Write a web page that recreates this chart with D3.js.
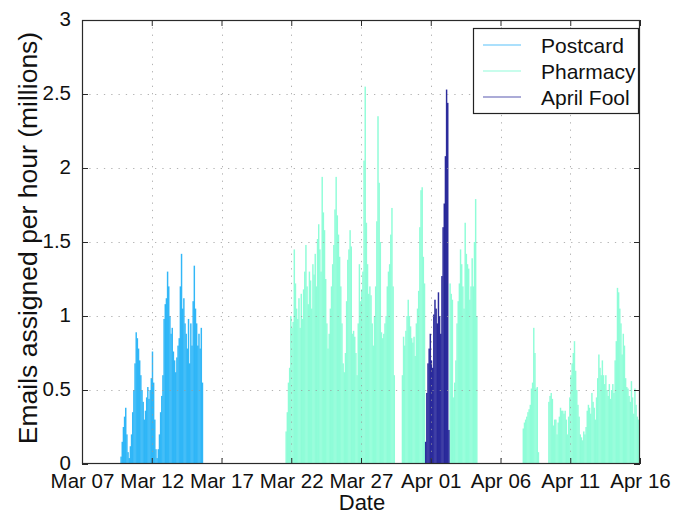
<!DOCTYPE html>
<html>
<head>
<meta charset="utf-8">
<script src="https://cdn.jsdelivr.net/npm/d3@7"></script>
<style>
  html, body { margin: 0; padding: 0; background: #fff; }
  svg { display: block; }
  text { font-family: "Liberation Sans", Arial, Helvetica, sans-serif; fill: #111; }
</style>
</head>
<body>
<svg id="chart" width="681" height="515"></svg>
<script>
// Hourly email volume per spam campaign, in millions, sampled every 2 hours.
const STEP_HOURS = 2;

const seriesNames = ["Postcard", "Pharmacy", "April Fool"];

const postcardStart = "2008-03-09T18:00Z";
const postcard = [
  0.05, 0.15, 0.25, 0.32, 0.38, 0.20, 0.08, 0.04, 0.12, 0.20,
  0.35, 0.50, 0.68, 0.89, 0.85, 0.78, 0.70, 0.60, 0.50, 0.42,
  0.30, 0.36, 0.45, 0.52, 0.44, 0.50, 0.58, 0.76, 0.55, 0.30,
  0.10, 0.04, 0.10, 0.20, 0.35, 0.46, 0.60, 0.98, 1.08, 1.12,
  1.30, 1.20, 1.00, 0.88, 0.92, 0.76, 0.70, 0.62, 0.72, 0.80,
  0.85, 1.20, 1.42, 1.05, 1.12, 0.95, 0.88, 0.78, 0.98, 0.68,
  0.95, 0.80, 1.10, 1.34, 1.05, 0.95, 0.80, 0.88, 0.78, 0.92,
  0.55
];

// Pharmacy ran in several bursts separated by quiet periods.
const pharmacyStarts = [
  "2008-03-21T14:00Z", "2008-03-29T22:00Z", "2008-04-02T08:00Z",
  "2008-04-07T14:00Z", "2008-04-09T10:00Z"
];
const pharmacyBurst1 = [
  0.22, 0.35, 0.55, 0.65, 1.00, 0.92, 0.96, 1.45, 1.22, 1.05,
  0.98, 1.12, 0.92, 1.15, 0.98, 1.18, 1.30, 1.48, 1.20, 1.08,
  1.30, 1.24, 1.05, 1.35, 1.28, 1.42, 1.20, 1.52, 1.62, 1.45,
  1.30, 1.94, 1.70, 1.58, 1.25, 0.95, 0.78, 0.88, 1.05, 1.20,
  1.35, 1.48, 1.72, 1.94, 1.68, 1.55, 1.40, 1.20, 0.95, 0.68,
  0.62, 0.75, 1.10, 1.38, 1.45, 1.58, 1.47, 0.88, 0.90, 0.86,
  0.75, 0.60, 0.95, 1.35, 1.10, 1.18, 1.30, 2.05, 2.55, 1.63,
  1.35, 1.15, 1.20, 1.14, 0.95, 0.80, 1.00, 1.20, 1.64, 2.35,
  1.90, 1.50, 0.89, 0.85, 0.88, 0.95, 1.00, 1.20, 1.30, 1.35,
  1.55, 1.73, 1.20, 0.60
];
const pharmacyBurst2 = [
  0.60, 0.86, 0.80, 0.90, 1.00, 1.11, 1.00, 0.93, 0.85, 0.82,
  0.86, 0.73, 0.95, 1.05, 1.17, 1.60, 1.85, 1.87, 1.40, 1.22
];
const pharmacyBurst3 = [
  1.22, 1.15, 1.11, 0.45, 0.55, 0.70, 0.95, 1.10, 1.22, 1.45,
  1.35, 1.20, 1.05, 1.63, 1.42, 1.35, 1.32, 1.11, 1.20, 1.39,
  1.20, 1.50, 1.79, 1.00
];
const pharmacyBurst4 = [
  0.24, 0.28, 0.30, 0.32, 0.35, 0.37, 0.40, 0.51, 0.55, 0.92,
  0.75, 0.51, 0.52, 0.08
];
const pharmacyBurst5 = [
  0.42, 0.46, 0.48, 0.44, 0.26, 0.30, 0.30, 0.20, 0.28, 0.32,
  0.38, 0.36, 0.36, 0.34, 0.36, 0.30, 0.20, 0.32, 0.45, 0.60,
  0.68, 0.75, 0.83, 0.63, 0.50, 0.40, 0.32, 0.20, 0.18, 0.16,
  0.22, 0.20, 0.25, 0.36, 0.40, 0.38, 0.34, 0.48, 0.42, 0.38,
  0.30, 0.45, 0.58, 0.74, 0.65, 0.60, 0.70, 0.60, 0.54, 0.60,
  0.50, 0.46, 0.54, 0.44, 0.50, 0.54, 0.48, 0.70, 0.83, 1.19,
  1.16, 1.05, 0.95, 0.74, 0.88, 0.80, 0.58, 0.52, 0.51, 0.46,
  0.42, 0.56, 0.45, 0.34, 0.51, 0.40, 0.32, 0.30
];
const pharmacyBursts = [pharmacyBurst1, pharmacyBurst2, pharmacyBurst3, pharmacyBurst4, pharmacyBurst5];

const aprilFoolStart = "2008-03-31T14:00Z";
const aprilFool = [
  0.15, 0.48, 0.68, 0.78, 0.88, 0.70, 0.65, 1.01, 1.11, 1.05,
  0.95, 1.16, 1.00, 0.88, 1.27, 1.60, 1.76, 2.08, 2.53, 2.44,
  0.23
];

const xTicks = [
  "2008-03-07", "2008-03-12", "2008-03-17", "2008-03-22", "2008-03-27",
  "2008-04-01", "2008-04-06", "2008-04-11", "2008-04-16"
];
const yTicks = [0, 0.5, 1, 1.5, 2, 2.5, 3];

const colors = { "Postcard": "#25b2f7", "Pharmacy": "#88fdd6", "April Fool": "#1f1f96" };
const legendColors = { "Postcard": "#8fd6fb", "Pharmacy": "#b6fde6", "April Fool": "#8f8fca" };

// ---- layout ----
const svg = d3.select("#chart");
const plot = { left: 82, right: 640, top: 20, bottom: 464 };

const x = d3.scaleUtc()
  .domain([new Date("2008-03-07T00:00Z"), new Date("2008-04-16T00:00Z")])
  .range([plot.left, plot.right]);
const y = d3.scaleLinear().domain([0, 3]).range([plot.bottom, plot.top]);

// Expand a run of 2-hour samples into timestamped records
function expand(name, start, values) {
  const t0 = new Date(start);
  return values.map((v, i) => ({
    name,
    t: d3.utcHour.offset(t0, i * STEP_HOURS),
    v
  }));
}

const records = [
  ...expand("Postcard", postcardStart, postcard),
  ...pharmacyBursts.flatMap((b, i) => expand("Pharmacy", pharmacyStarts[i], b)),
  ...expand("April Fool", aprilFoolStart, aprilFool)
];

// bars
const barG = svg.append("g");
barG.selectAll("rect")
  .data(records)
  .join("rect")
  .attr("x", d => x(d.t))
  .attr("width", d => x(d3.utcHour.offset(d.t, STEP_HOURS)) - x(d.t) + 0.3)
  .attr("y", d => y(d.v))
  .attr("height", d => y(0) - y(d.v))
  .attr("fill", d => colors[d.name])
  .attr("fill-opacity", 0.94);

// dotted grid, drawn over the bars
const gridG = svg.append("g")
  .attr("stroke", "#9a9a9a")
  .attr("stroke-width", 1)
  .attr("stroke-dasharray", "1.3,6")
  .attr("stroke-opacity", 0.75);
gridG.selectAll("line.gx")
  .data(xTicks.slice(1, -1).map(s => new Date(s + "T00:00Z")))
  .join("line")
  .attr("x1", d => Math.round(x(d)) + 0.5).attr("x2", d => Math.round(x(d)) + 0.5)
  .attr("y1", plot.top).attr("y2", plot.bottom);
gridG.selectAll("line.gy")
  .data(yTicks.slice(1, -1))
  .join("line")
  .attr("y1", d => Math.round(y(d)) + 0.5).attr("y2", d => Math.round(y(d)) + 0.5)
  .attr("x1", plot.left).attr("x2", plot.right);

// axes (ticks pointing inward, on all four sides)
const xTickDates = xTicks.map(s => new Date(s + "T00:00Z"));
const fmtDate = d3.utcFormat("%b %d");
const axisColor = "#2a2a2a";

function styleAxis(g) {
  g.select(".domain").remove();
  g.selectAll(".tick line").attr("stroke", axisColor);
  g.selectAll(".tick text")
    .attr("font-size", 20.5)
    .attr("fill", "#111")
    .attr("font-family", "Liberation Sans, Arial, sans-serif");
}

svg.append("g")
  .attr("transform", `translate(0,${plot.bottom})`)
  .call(d3.axisBottom(x).tickValues(xTickDates).tickFormat(fmtDate).tickSizeInner(-6).tickPadding(9))
  .call(styleAxis);
svg.append("g")
  .attr("transform", `translate(0,${plot.top})`)
  .call(d3.axisTop(x).tickValues(xTickDates).tickFormat("").tickSizeInner(-6))
  .call(styleAxis);
svg.append("g")
  .attr("transform", `translate(${plot.left},0)`)
  .call(d3.axisLeft(y).tickValues(yTicks).tickFormat(d3.format("")).tickSizeInner(-6).tickPadding(11))
  .call(styleAxis)
  .call(g => g.selectAll(".tick text").attr("dy", "0.28em"));
svg.append("g")
  .attr("transform", `translate(${plot.right},0)`)
  .call(d3.axisRight(y).tickValues(yTicks).tickFormat("").tickSizeInner(-6))
  .call(styleAxis);

// frame
svg.append("rect")
  .attr("x", plot.left + 0.5).attr("y", plot.top + 0.5)
  .attr("width", plot.right - plot.left - 1).attr("height", plot.bottom - plot.top - 1)
  .attr("fill", "none").attr("stroke", axisColor).attr("stroke-width", 1.2);

// axis titles
svg.append("text")
  .attr("x", 362).attr("y", 510)
  .attr("text-anchor", "middle").attr("font-size", 22)
  .text("Date");
svg.append("text")
  .attr("transform", "translate(37,238) rotate(-90)")
  .attr("text-anchor", "middle").attr("font-size", 26.5)
  .text("Emails assigned per hour (millions)");

// legend
const lg = svg.append("g").attr("transform", "translate(473,28)");
lg.append("rect")
  .attr("x", 0.5).attr("y", 0.5).attr("width", 165).attr("height", 85)
  .attr("fill", "#fff").attr("stroke", "#222").attr("stroke-width", 1.2);
seriesNames.forEach((name, i) => {
  const cy = 17 + i * 26;
  lg.append("line")
    .attr("x1", 10).attr("x2", 48).attr("y1", cy).attr("y2", cy)
    .attr("stroke", legendColors[name]).attr("stroke-width", 1.5);
  lg.append("text")
    .attr("x", 68).attr("y", cy + 7.5)
    .attr("font-size", 21)
    .text(name);
});
</script>
</body>
</html>
